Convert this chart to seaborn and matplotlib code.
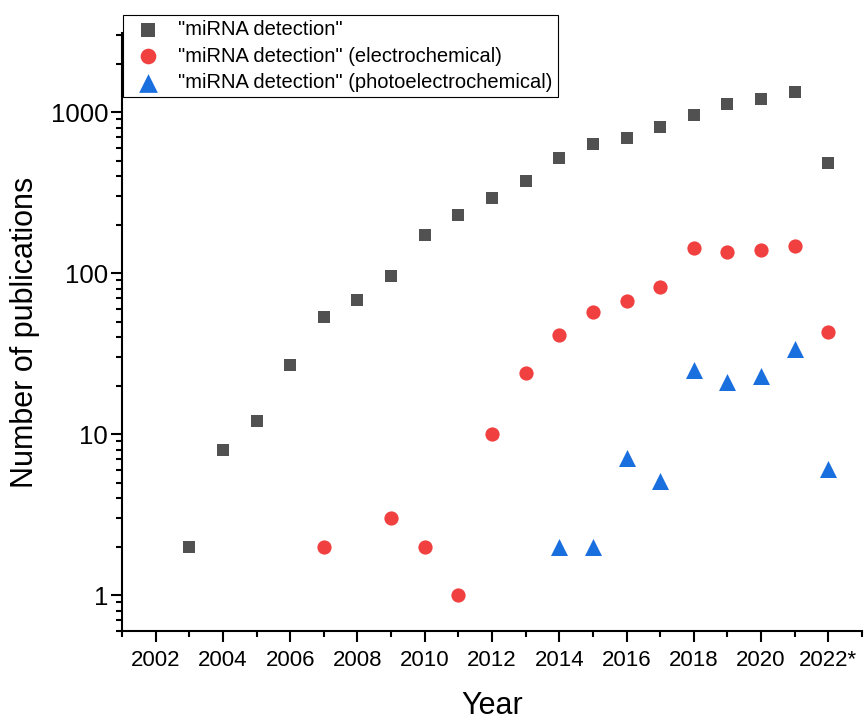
import matplotlib
matplotlib.use("Agg")
import matplotlib.pyplot as plt
import matplotlib.ticker as mticker
import seaborn as sns
import pandas as pd

years_all = [2003, 2004, 2005, 2006, 2007, 2008, 2009, 2010, 2011, 2012,
             2013, 2014, 2015, 2016, 2017, 2018, 2019, 2020, 2021, 2022]
total = [2, 8, 12, 27, 53, 68, 96, 172, 229, 292,
         373, 518, 633, 690, 805, 957, 1120, 1205, 1330, 482]

years_ec = [2007, 2009, 2010, 2011, 2012, 2013, 2014, 2015, 2016, 2017,
            2018, 2019, 2020, 2021, 2022]
electro = [2, 3, 2, 1, 10, 24, 41, 57, 67, 82, 143, 135, 139, 147, 43]

years_pec = [2014, 2015, 2016, 2017, 2018, 2019, 2020, 2021, 2022]
photo = [2, 2, 7.1, 5.1, 25, 21, 23, 34, 6.1]

labels = ['"miRNA detection"',
          '"miRNA detection" (electrochemical)',
          '"miRNA detection" (photoelectrochemical)']
colors = ["#515151", "#F14040", "#1A6FDF"]
xtick_vals = [2002, 2004, 2006, 2008, 2010, 2012, 2014, 2016, 2018, 2020, 2022]
xtick_labels = ["2002", "2004", "2006", "2008", "2010", "2012", "2014",
                "2016", "2018", "2020", "2022*"]

sns.set_style("ticks")
plt.rcParams["font.family"] = ["Liberation Sans", "DejaVu Sans"]
plt.rcParams["text.color"] = "black"
plt.rcParams["axes.labelcolor"] = "black"
plt.rcParams["xtick.color"] = "black"
plt.rcParams["ytick.color"] = "black"

fig = plt.figure(figsize=(8.67, 7.2), dpi=100)
ax = fig.add_axes([122 / 867, 1 - 631 / 720, (862 - 122) / 867, (631 - 33) / 720])

df1 = pd.DataFrame({"Year": years_all, "Count": total})
df2 = pd.DataFrame({"Year": years_ec, "Count": electro})
df3 = pd.DataFrame({"Year": years_pec, "Count": photo})

sns.scatterplot(data=df1, x="Year", y="Count", marker="s", s=85, color=colors[0],
                linewidth=0, label=labels[0], ax=ax, zorder=3)
sns.scatterplot(data=df2, x="Year", y="Count", marker="o", s=105, color=colors[1],
                linewidth=0, label=labels[1], ax=ax, zorder=3)
sns.scatterplot(data=df3, x="Year", y="Count", marker="^", s=150, color=colors[2],
                linewidth=0, label=labels[2], ax=ax, zorder=3)

ax.set_yscale("log")
ax.set_ylim(0.598, 3100)
ax.set_xlim(2001, 2023)

ax.yaxis.set_major_locator(mticker.FixedLocator([1, 10, 100, 1000]))
ax.yaxis.set_major_formatter(mticker.FixedFormatter(["1", "10", "100", "1000"]))
ax.yaxis.set_minor_locator(mticker.LogLocator(base=10, subs=range(2, 10)))
ax.yaxis.set_minor_formatter(mticker.NullFormatter())

ax.set_xticks(xtick_vals)
ax.set_xticklabels(xtick_labels)
ax.xaxis.set_minor_locator(mticker.FixedLocator(list(range(2001, 2024, 2))))

for sp in ["top", "right"]:
    ax.spines[sp].set_visible(False)
for sp in ["left", "bottom"]:
    ax.spines[sp].set_linewidth(1.5)
    ax.spines[sp].set_color("black")

ax.tick_params(axis="both", which="major", direction="out", length=8, width=1.5,
               color="black", labelcolor="black")
ax.tick_params(axis="both", which="minor", direction="out", length=4.5, width=1.5,
               color="black")
ax.tick_params(axis="y", which="major", labelsize=18.5, pad=2)
ax.tick_params(axis="x", which="major", labelsize=16, pad=6)

ax.set_xlabel("Year", fontsize=22, labelpad=14, color="black")
ax.set_ylabel("Number of publications", fontsize=22, labelpad=8, color="black")

leg = ax.legend(loc="upper left", bbox_to_anchor=(0.0015, 1.03), frameon=True,
                fontsize=14.5, handletextpad=0.5, borderpad=0.25,
                labelspacing=0.38, fancybox=False, borderaxespad=0,
                handlelength=2.0, markerscale=1.1)
leg.get_frame().set_edgecolor("black")
leg.get_frame().set_linewidth(0.8)
leg.get_frame().set_alpha(1)
for t in leg.get_texts():
    t.set_color("black")

fig.savefig("out.png", dpi=100)
